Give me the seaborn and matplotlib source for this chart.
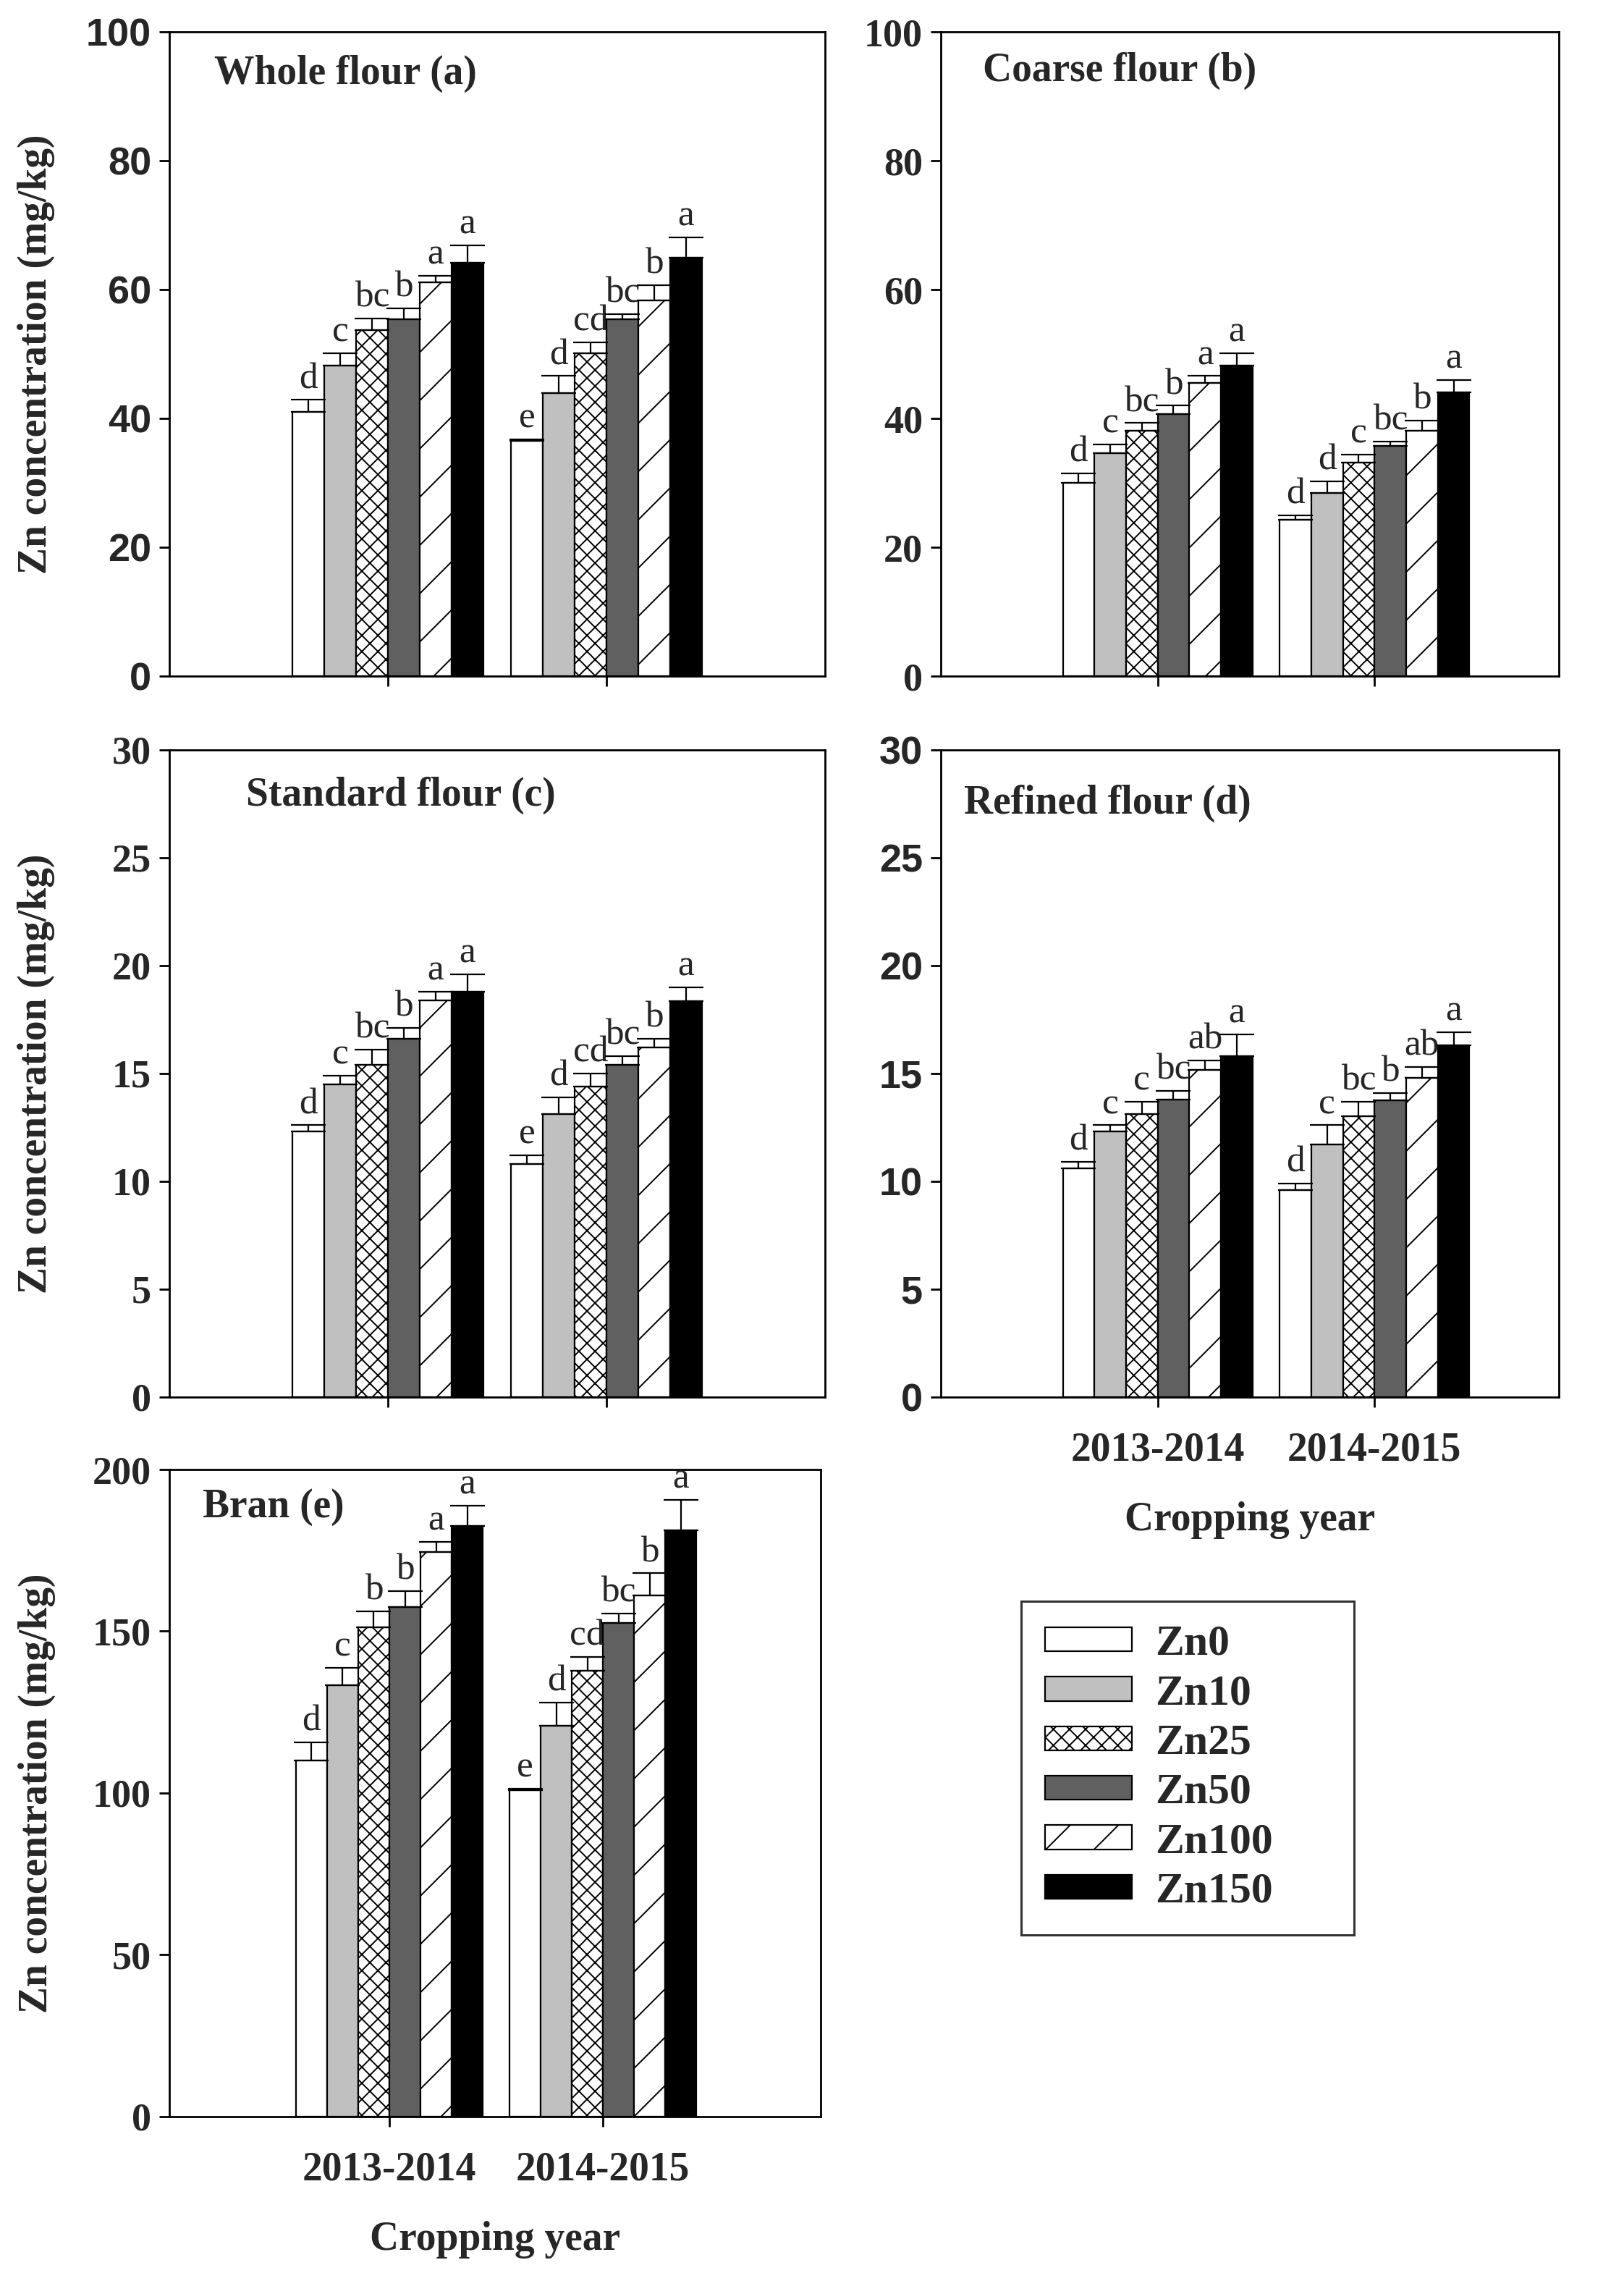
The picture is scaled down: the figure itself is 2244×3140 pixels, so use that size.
import matplotlib
matplotlib.use("Agg")
import matplotlib.pyplot as plt
import seaborn as sns
import numpy as np
import pandas as pd

# 年度と処理区
years = ["2013-2014", "2014-2015"]
treatments = ["Zn0", "Zn10", "Zn25", "Zn50", "Zn100", "Zn150"]

# (a) Whole flour
whole_mean = [[41.0, 48.2, 53.7, 55.4, 61.2, 64.2], [36.5, 44.0, 50.1, 55.4, 58.3, 65.0]]
whole_err = [[1.9, 1.9, 1.8, 1.7, 1.0, 2.7], [0.3, 2.6, 1.7, 0.8, 2.4, 3.1]]
whole_sig = [["d", "c", "bc", "b", "a", "a"], ["e", "d", "cd", "bc", "b", "a"]]

# (b) Coarse flour
coarse_mean = [[30.0, 34.6, 38.1, 40.7, 45.5, 48.2], [24.3, 28.4, 33.2, 35.7, 38.1, 44.1]]
coarse_err = [[1.5, 1.4, 1.2, 1.3, 1.1, 1.9], [0.7, 1.9, 1.2, 0.7, 1.6, 1.9]]
coarse_sig = [["d", "c", "bc", "b", "a", "a"], ["d", "d", "c", "bc", "b", "a"]]

# (c) Standard flour
standard_mean = [[12.3, 14.5, 15.4, 16.6, 18.4, 18.8], [10.8, 13.1, 14.4, 15.4, 16.2, 18.35]]
standard_err = [[0.3, 0.4, 0.7, 0.5, 0.4, 0.8], [0.4, 0.8, 0.6, 0.4, 0.4, 0.65]]
standard_sig = [["d", "c", "bc", "b", "a", "a"], ["e", "d", "cd", "bc", "b", "a"]]

# (d) Refined flour
refined_mean = [[10.6, 12.3, 13.1, 13.8, 15.15, 15.8], [9.6, 11.7, 13.0, 13.75, 14.8, 16.3]]
refined_err = [[0.3, 0.3, 0.6, 0.4, 0.45, 1.0], [0.3, 0.9, 0.7, 0.35, 0.5, 0.6]]
refined_sig = [["d", "c", "c", "bc", "ab", "a"], ["d", "c", "bc", "b", "ab", "a"]]

# (e) Bran
bran_mean = [[110.0, 133.3, 151.3, 157.4, 174.6, 182.5], [101.0, 120.7, 137.7, 152.6, 161.1, 181.3]]
bran_err = [[5.6, 5.4, 4.8, 5.1, 3.1, 6.4], [0.3, 7.2, 4.3, 2.8, 6.8, 9.4]]
bran_sig = [["d", "c", "b", "b", "a", "a"], ["e", "d", "cd", "bc", "b", "a"]]

# 塗りとハッチ
colors = ["white", "#c0c0c0", "white", "#606060", "white", "black"]
hatches = ["", "", "xxx", "", "/", ""]

sns.set_style("ticks")
plt.rcParams["font.family"] = ["Liberation Serif", "DejaVu Serif"]
plt.rcParams["hatch.linewidth"] = 0.7
plt.rcParams["hatch.color"] = "black"

SERIF = "Liberation Serif"
SANS = "Liberation Sans"

fig = plt.figure(figsize=(11.22, 15.70), dpi=200)

# パネルの設定
panels = [
    dict(rect=[0.1043, 0.7025, 0.4037, 0.2834], mean=whole_mean, err=whole_err, sig=whole_sig,
         title="Whole flour (a)", tpos=(0.068, 0.935), ymax=100, step=20, xlim=(-1, 2),
         tickfont=SANS, ylabel=True, xlabels=False),
    dict(rect=[0.5793, 0.7025, 0.3806, 0.2834], mean=coarse_mean, err=coarse_err, sig=coarse_sig,
         title="Coarse flour (b)", tpos=(0.068, 0.94), ymax=100, step=20, xlim=(-1, 1.85),
         tickfont=SERIF, ylabel=False, xlabels=False),
    dict(rect=[0.1043, 0.3854, 0.4037, 0.2847], mean=standard_mean, err=standard_err, sig=standard_sig,
         title="Standard flour (c)", tpos=(0.117, 0.93), ymax=30, step=5, xlim=(-1, 2),
         tickfont=SERIF, ylabel=True, xlabels=False),
    dict(rect=[0.5793, 0.3854, 0.3806, 0.2847], mean=refined_mean, err=refined_err, sig=refined_sig,
         title="Refined flour (d)", tpos=(0.037, 0.917), ymax=30, step=5, xlim=(-1, 1.85),
         tickfont=SANS, ylabel=False, xlabels=True),
    dict(rect=[0.1043, 0.0688, 0.4011, 0.2847], mean=bran_mean, err=bran_err, sig=bran_sig,
         title="Bran (e)", tpos=(0.051, 0.942), ymax=200, step=50, xlim=(-1.03, 2.02),
         tickfont=SERIF, ylabel=True, xlabels=True),
]

legend_handles = None

for p in panels:
    ax = fig.add_axes(p["rect"])
    rows = []
    for i, yr in enumerate(years):
        for j, tr in enumerate(treatments):
            rows.append({"year": yr, "treat": tr, "value": p["mean"][i][j]})
    df = pd.DataFrame(rows)

    sns.barplot(data=df, x="year", y="value", hue="treat", hue_order=treatments,
                order=years, palette=colors, edgecolor="black", linewidth=0.8,
                width=0.875, errorbar=None, legend=False, saturation=1, ax=ax)
    bar_conts = list(ax.containers)

    # ハッチと誤差棒と有意差の文字
    for j, cont in enumerate(bar_conts):
        for i, bar in enumerate(cont.patches):
            bar.set_hatch(hatches[j])
            xc = bar.get_x() + bar.get_width() / 2
            h = bar.get_height()
            e = p["err"][i][j]
            ax.errorbar(xc, h, yerr=[[0], [e]], fmt="none", ecolor="black",
                        elinewidth=0.8, capsize=8.5, capthick=0.8, zorder=5)
            ax.text(xc, h + e + p["ymax"] * 0.006, p["sig"][i][j], ha="center",
                    va="bottom", fontsize=18.5, fontfamily=SERIF)
    if legend_handles is None:
        legend_handles = [c.patches[0] for c in bar_conts]

    ax.set_xlim(*p["xlim"])
    ax.set_ylim(0, p["ymax"])
    ax.set_yticks(np.arange(0, p["ymax"] + 1, p["step"]))
    ax.set_xticks([0, 1])
    for s in ax.spines.values():
        s.set_visible(True)
        s.set_linewidth(1.0)
        s.set_color("black")
    ax.tick_params(axis="both", direction="out", length=5, width=1.0, color="black")
    ax.tick_params(axis="y", pad=4)
    for lab in ax.get_yticklabels():
        lab.set_fontfamily(p["tickfont"])
        lab.set_fontweight("bold")
        lab.set_fontsize(19.5)

    if p["xlabels"]:
        ax.set_xticklabels(years, fontsize=20, fontweight="bold", fontfamily=SERIF)
        ax.tick_params(axis="x", pad=12)
        ax.set_xlabel("Cropping year", fontsize=20, fontweight="bold", fontfamily=SERIF, labelpad=16)
    else:
        ax.set_xticklabels([])
        ax.set_xlabel("")

    if p["ylabel"]:
        ax.set_ylabel("Zn concentration (mg/kg)", fontsize=20, fontweight="bold", fontfamily=SERIF)
        ax.yaxis.set_label_coords(-0.175, 0.5)
    else:
        ax.set_ylabel("")

    ax.text(p["tpos"][0], p["tpos"][1], p["title"], transform=ax.transAxes, ha="left",
            va="center", fontsize=20, fontweight="bold", fontfamily=SERIF)

# 凡例
leg = fig.legend(legend_handles, treatments, loc="upper left", bbox_to_anchor=(0.629, 0.154, 0.205, 0.1415),
                 mode="expand", frameon=True, fancybox=False, shadow=False, edgecolor="black",
                 prop={"family": SERIF, "weight": "bold", "size": 21.5},
                 handlelength=2.0, handleheight=0.48, handletextpad=0.55, labelspacing=0.24,
                 borderpad=0.55, borderaxespad=0)
leg.get_frame().set_linewidth(1.1)

fig.savefig("out.png", dpi=200, facecolor="white")
